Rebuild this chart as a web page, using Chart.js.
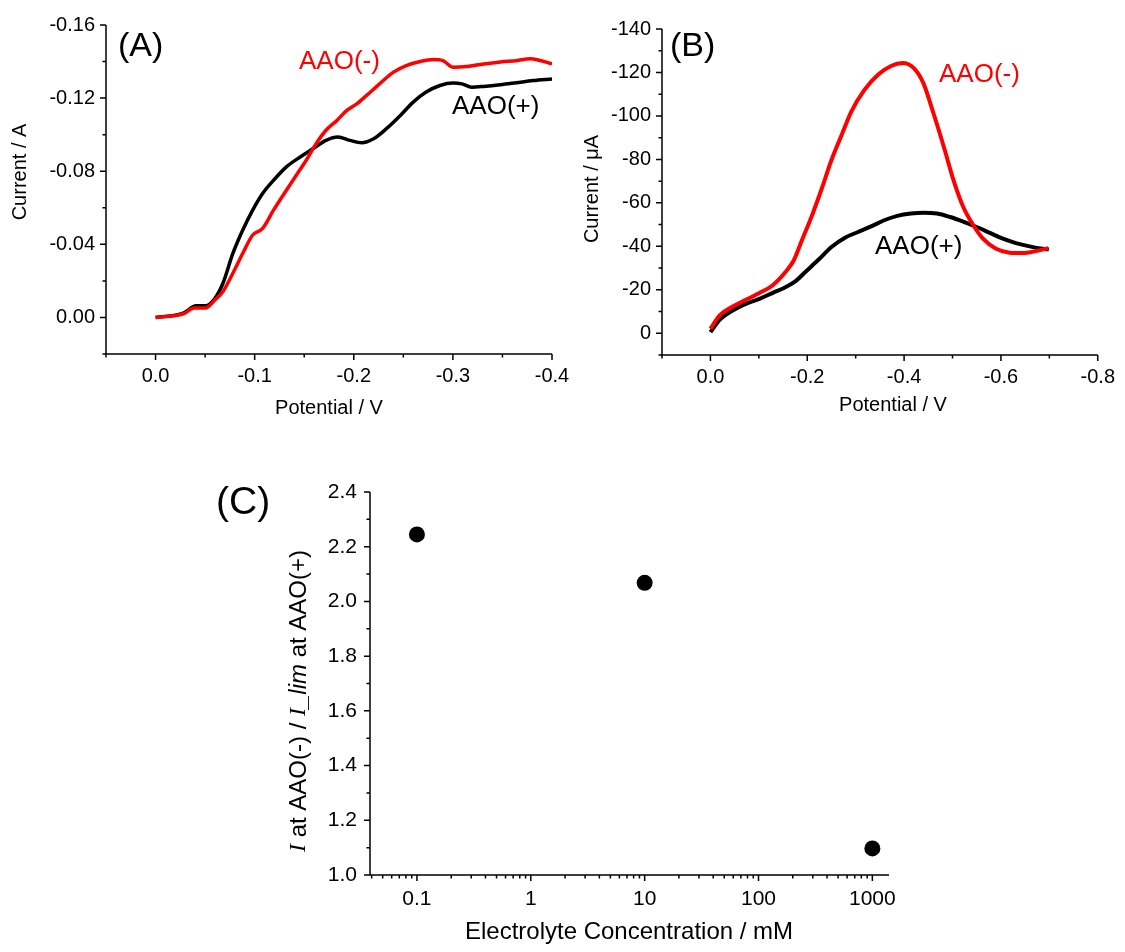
<!DOCTYPE html>
<html>
<head>
<meta charset="utf-8">
<script src="https://cdn.jsdelivr.net/npm/chart.js@4/dist/chart.umd.min.js"></script>
<style>
  body { margin: 0; background: #fff; }
  #wrap { position: relative; width: 1125px; height: 952px; overflow: hidden; }
  canvas { position: absolute; }
</style>
</head>
<body>
<div id="wrap">
  <canvas id="chartA" width="620" height="440" style="left:0;top:0"></canvas>
  <canvas id="chartB" width="565" height="440" style="left:560px;top:0"></canvas>
  <canvas id="chartC" width="760" height="492" style="left:180px;top:460px"></canvas>
</div>
<script>
// ---- Panel A: Current (A) vs Potential (V)
const potentialA_plus = [0, -0.028, -0.041, -0.051, -0.060, -0.068, -0.078, -0.088, -0.098, -0.108, -0.119, -0.132, -0.146, -0.159, -0.172, -0.184, -0.196, -0.208, -0.220, -0.233, -0.247, -0.260, -0.273, -0.287, -0.300, -0.309, -0.319, -0.331, -0.348, -0.364, -0.381, -0.400];
const currentA_plus = [0, -0.0024, -0.0064, -0.0064, -0.0105, -0.0187, -0.035, -0.0478, -0.0587, -0.0678, -0.075, -0.0824, -0.0878, -0.0924, -0.0969, -0.0987, -0.0969, -0.0956, -0.0978, -0.1033, -0.1105, -0.1178, -0.1233, -0.1269, -0.1282, -0.1278, -0.126, -0.1264, -0.1273, -0.1284, -0.1296, -0.1305];
const potentialA_minus = [0, -0.028, -0.039, -0.050, -0.060, -0.068, -0.078, -0.088, -0.098, -0.108, -0.119, -0.132, -0.142, -0.152, -0.162, -0.172, -0.183, -0.193, -0.203, -0.213, -0.226, -0.240, -0.253, -0.267, -0.280, -0.290, -0.300, -0.314, -0.331, -0.348, -0.364, -0.378, -0.385, -0.400];
const currentA_minus = [0, -0.002, -0.0051, -0.0051, -0.0096, -0.0142, -0.0242, -0.0351, -0.0451, -0.0487, -0.0587, -0.0696, -0.0778, -0.086, -0.0951, -0.1024, -0.1078, -0.1133, -0.1169, -0.1215, -0.1278, -0.1342, -0.1378, -0.14, -0.1411, -0.1405, -0.1369, -0.1373, -0.1387, -0.1398, -0.1405, -0.1415, -0.141, -0.1387];
const xTicksA = [0, -0.1, -0.2, -0.3, -0.4];
const xMinorA = [0.05, -0.05, -0.15, -0.25, -0.35];
const yTicksA = [0, -0.04, -0.08, -0.12, -0.16];
const yMinorA = [0.02, -0.02, -0.06, -0.10, -0.14];

// ---- Panel B: Current (uA) vs Potential (V)
const potentialB_plus = [0, -0.019, -0.046, -0.073, -0.101, -0.128, -0.155, -0.176, -0.196, -0.223, -0.250, -0.278, -0.305, -0.332, -0.359, -0.386, -0.414, -0.440, -0.468, -0.495, -0.522, -0.550, -0.577, -0.604, -0.631, -0.659, -0.686, -0.699];
const currentB_plus = [-0.5, -6.2, -10.5, -13.5, -15.8, -18.5, -21.2, -24, -28.2, -33.8, -39.7, -44, -46.6, -49.2, -52, -54, -55.1, -55.5, -55.1, -53.5, -51.4, -48.9, -46.2, -43.5, -41.5, -40, -38.9, -38.6];
const potentialB_minus = [0, -0.019, -0.046, -0.073, -0.101, -0.128, -0.155, -0.172, -0.189, -0.210, -0.230, -0.250, -0.271, -0.291, -0.318, -0.346, -0.373, -0.397, -0.420, -0.440, -0.461, -0.482, -0.502, -0.522, -0.543, -0.563, -0.590, -0.618, -0.645, -0.672, -0.698];
const currentB_minus = [-2, -8.2, -12.3, -15.4, -18.5, -22, -28.2, -33.5, -42.8, -54.3, -66.6, -79.7, -91.2, -102, -112, -119, -123, -124.3, -122, -115, -101, -85.8, -70.5, -58.2, -49.7, -43.5, -38.9, -37.1, -36.9, -37.8, -39.2];
const xTicksB = [0, -0.2, -0.4, -0.6, -0.8];
const xMinorB = [0.1, -0.1, -0.3, -0.5, -0.7];
const yTicksB = [0, -20, -40, -60, -80, -100, -120, -140];
const yMinorB = [10, -10, -30, -50, -70, -90, -110, -130];

// ---- Panel C: current ratio vs electrolyte concentration
const concentrationC = [0.1, 10, 1000];
const ratioC = [2.245, 2.068, 1.097];
const xTicksC = [0.1, 1, 10, 100, 1000];
const xMinorC = [0.04, 0.05, 0.06, 0.07, 0.08, 0.09, 0.2, 0.3, 0.4, 0.5, 0.6, 0.7, 0.8, 0.9, 2, 3, 4, 5, 6, 7, 8, 9, 20, 30, 40, 50, 60, 70, 80, 90, 200, 300, 400, 500, 600, 700, 800, 900];
const yTicksC = [1.0, 1.2, 1.4, 1.6, 1.8, 2.0, 2.2, 2.4];
const yMinorC = [1.1, 1.3, 1.5, 1.7, 1.9, 2.1, 2.3];

const SANS = '"Liberation Sans", Arial, sans-serif';
const SERIF = '"Liberation Serif", "Times New Roman", serif';
const RED = '#ff0000';

const pts = (xs, ys) => xs.map((x, i) => ({ x, y: ys[i] }));

function drawLabel(ctx, lab) {
    ctx.save();
    ctx.translate(lab.x, lab.y);
    if (lab.rotate) ctx.rotate(-Math.PI / 2);
    ctx.textBaseline = 'middle';
    ctx.textAlign = 'left';
    ctx.fillStyle = lab.color || '#000';
    const parts = lab.parts || [{ text: lab.text, font: lab.font }];
    let total = 0;
    parts.forEach(p => { ctx.font = p.font; total += ctx.measureText(p.text).width; });
    let cx = lab.align === 'left' ? 0 : -total / 2;
    parts.forEach(p => {
        ctx.font = p.font;
        ctx.fillText(p.text, cx, 0);
        cx += ctx.measureText(p.text).width;
    });
    ctx.restore();
}

// axis lines, major/minor tick marks and free text, placed with the chart's scales
function axisDecor(cfg) {
    return {
        id: 'axisDecor',
        afterDraw(chart) {
            const { ctx, chartArea: a, scales: { x, y } } = chart;
            ctx.save();
            ctx.strokeStyle = '#000';
            ctx.lineWidth = 1.5;
            ctx.beginPath();
            ctx.moveTo(a.left, a.top);
            ctx.lineTo(a.left, a.bottom);
            ctx.lineTo(a.right, a.bottom);
            const tx = (v, len) => { const p = x.getPixelForValue(v); ctx.moveTo(p, a.bottom); ctx.lineTo(p, a.bottom + len); };
            const ty = (v, len) => { const p = y.getPixelForValue(v); ctx.moveTo(a.left, p); ctx.lineTo(a.left - len, p); };
            cfg.xMajor.forEach(v => tx(v, 6));
            cfg.xMinor.forEach(v => tx(v, 3.5));
            cfg.yMajor.forEach(v => ty(v, 6));
            cfg.yMinor.forEach(v => ty(v, 3.5));
            ctx.stroke();
            ctx.restore();
            cfg.labels.forEach(l => drawLabel(ctx, l));
        }
    };
}

function lineSet(xs, ys, color, width) {
    return {
        data: pts(xs, ys),
        showLine: true,
        borderColor: color,
        borderWidth: width,
        pointRadius: 0,
        cubicInterpolationMode: 'monotone',
        fill: false
    };
}

function axis(opts) {
    const { ticks, fmt, size, padding, fit, ...rest } = opts;
    return Object.assign({
        grid: { display: false, drawTicks: false },
        border: { display: false },
        afterBuildTicks: s => { s.ticks = ticks.map(v => ({ value: v })); },
        afterFit: fit,
        ticks: {
            color: '#000',
            padding,
            autoSkip: false,
            maxRotation: 0,
            font: { family: SANS, size },
            callback: fmt
        }
    }, rest);
}

const common = {
    responsive: false,
    animation: false,
    events: [],
    plugins: { legend: { display: false }, tooltip: { enabled: false } }
};

document.addEventListener('DOMContentLoaded', () => {
    // Panel A
    new Chart(document.getElementById('chartA'), {
        type: 'scatter',
        data: {
            datasets: [
                lineSet(potentialA_minus, currentA_minus, RED, 3.5),
                lineSet(potentialA_plus, currentA_plus, '#000', 3.5)
            ]
        },
        options: {
            ...common,
            layout: { padding: { left: 0, top: 25, right: 68, bottom: 16 } },
            scales: {
                x: axis({ type: 'linear', reverse: true, min: -0.4, max: 0.05, ticks: xTicksA, fmt: v => v.toFixed(1), size: 20, padding: 10, fit: s => { s.height = 70; } }),
                y: axis({ type: 'linear', reverse: true, min: -0.16, max: 0.02, ticks: yTicksA, fmt: v => v.toFixed(2), size: 20, padding: 11, fit: s => { s.width = 106; } })
            }
        },
        plugins: [axisDecor({
            xMajor: xTicksA, xMinor: xMinorA, yMajor: yTicksA, yMinor: yMinorA,
            labels: [
                { text: '(A)', x: 118, y: 47, align: 'left', font: '34px ' + SANS },
                { text: 'AAO(-)', x: 299, y: 62, align: 'left', color: RED, font: '26px ' + SANS },
                { text: 'AAO(+)', x: 452, y: 107, align: 'left', font: '26px ' + SANS },
                { text: 'Current / A', x: 20, y: 172, rotate: true, font: '20px ' + SANS },
                { text: 'Potential / V', x: 329, y: 408, font: '20px ' + SANS }
            ]
        })]
    });

    // Panel B
    new Chart(document.getElementById('chartB'), {
        type: 'scatter',
        data: {
            datasets: [
                lineSet(potentialB_minus, currentB_minus, RED, 4),
                lineSet(potentialB_plus, currentB_plus, '#000', 4)
            ]
        },
        options: {
            ...common,
            layout: { padding: { left: 0, top: 29, right: 23, bottom: 25 } },
            scales: {
                x: axis({ type: 'linear', reverse: true, min: -0.8, max: 0.1, ticks: xTicksB, fmt: v => v.toFixed(1), size: 20, padding: 10, fit: s => { s.height = 60; } }),
                y: axis({ type: 'linear', reverse: true, min: -140, max: 10, ticks: yTicksB, fmt: v => String(v), size: 20, padding: 11, fit: s => { s.width = 102; } })
            }
        },
        plugins: [axisDecor({
            xMajor: xTicksB, xMinor: xMinorB, yMajor: yTicksB, yMinor: yMinorB,
            labels: [
                { text: '(B)', x: 110, y: 47, align: 'left', font: '34px ' + SANS },
                { text: 'AAO(-)', x: 379, y: 75, align: 'left', color: RED, font: '26px ' + SANS },
                { text: 'AAO(+)', x: 315, y: 247, align: 'left', font: '26px ' + SANS },
                { text: 'Current / \u03bcA', x: 32, y: 189, rotate: true, font: '20px ' + SANS },
                { text: 'Potential / V', x: 333, y: 405, font: '20px ' + SANS }
            ]
        })]
    });

    // Panel C
    new Chart(document.getElementById('chartC'), {
        type: 'scatter',
        data: {
            datasets: [{
                data: pts(concentrationC, ratioC),
                pointRadius: 8,
                pointBackgroundColor: '#000',
                pointBorderWidth: 0,
                showLine: false
            }]
        },
        options: {
            ...common,
            layout: { padding: { left: 0, top: 32, right: 51, bottom: 27 } },
            scales: {
                x: axis({ type: 'logarithmic', min: 0.0387, max: 1400, ticks: xTicksC, fmt: v => String(v), size: 21, padding: 12, fit: s => { s.height = 50; } }),
                y: axis({ type: 'linear', min: 1.0, max: 2.4, ticks: yTicksC, fmt: v => v.toFixed(1), size: 21, padding: 13, fit: s => { s.width = 190; } })
            }
        },
        plugins: [axisDecor({
            xMajor: xTicksC, xMinor: xMinorC, yMajor: yTicksC, yMinor: yMinorC,
            labels: [
                { text: '(C)', x: 36, y: 43, align: 'left', font: '39px ' + SANS },
                { text: 'Electrolyte Concentration / mM', x: 449, y: 472, font: '24px ' + SANS },
                {
                    x: 119, y: 241, rotate: true,
                    parts: [
                        { text: 'I', font: 'italic 24px ' + SERIF },
                        { text: ' at AAO(-) / ', font: '24px ' + SANS },
                        { text: 'I', font: 'italic 24px ' + SERIF },
                        { text: '_lim', font: 'italic 24px ' + SANS },
                        { text: ' at AAO(+)', font: '24px ' + SANS }
                    ]
                }
            ]
        })]
    });
});
</script>
</body>
</html>
